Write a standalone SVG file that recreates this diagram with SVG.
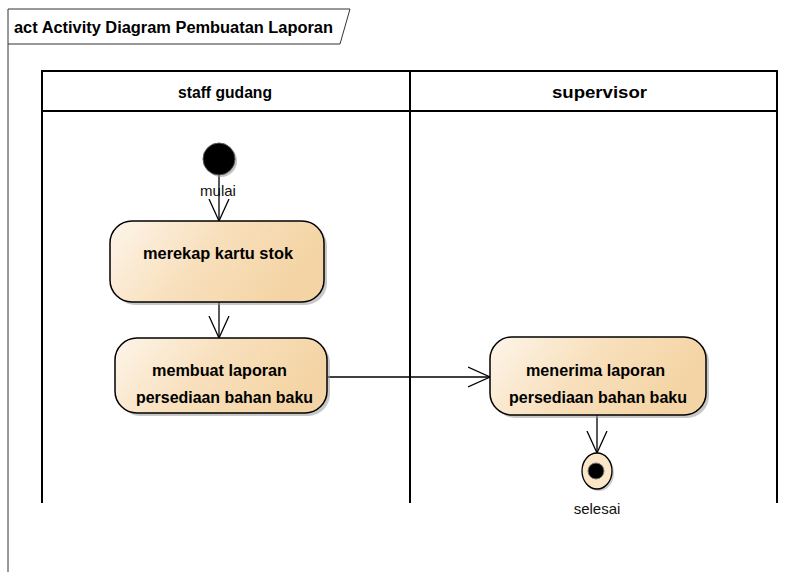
<svg xmlns="http://www.w3.org/2000/svg" width="801" height="572" viewBox="0 0 801 572">
<style>
.frame{fill:none;stroke:#333;stroke-width:1}
.lane{fill:none;stroke:#000;stroke-width:2}
.act{fill:url(#g);stroke:#000;stroke-width:1.5}
.shadow{fill:#9a9a9a;opacity:0.55}
.b{font-family:"Liberation Sans",Arial,sans-serif;font-weight:bold;font-size:16px;fill:#000}
.r{font-family:"Liberation Sans",Arial,sans-serif;font-size:15px;fill:#111}
.edge{fill:none;stroke:#000;stroke-width:1.3}
</style>
<defs>
<linearGradient id="g" x1="0" y1="0" x2="1" y2="0.3">
<stop offset="0" stop-color="#fdf5ea"/>
<stop offset="0.5" stop-color="#f8e0bd"/>
<stop offset="1" stop-color="#f4d4a4"/>
</linearGradient>
<marker id="open" markerWidth="24" markerHeight="22" refX="22" refY="11" orient="auto" markerUnits="userSpaceOnUse">
<path d="M0,1 L22,11 L0,21" fill="none" stroke="#000" stroke-width="1.3"/>
</marker>
</defs>
<rect width="801" height="572" fill="#fff"/>
<g id="frame">
<path class="frame" d="M8,572 L8,9 L350,9 L340,44 L8,44"/>
<text class="b" x="14" y="33" textLength="319" lengthAdjust="spacingAndGlyphs">act Activity Diagram Pembuatan Laporan</text>
</g>
<g id="lanes">
<path class="lane" d="M42,503 L42,71 L777,71 L777,503 M42,111 L777,111 M410,71 L410,503"/>
<text class="b" x="178" y="98" textLength="94" lengthAdjust="spacingAndGlyphs">staff gudang</text>
<text class="b" x="552" y="98" textLength="95" lengthAdjust="spacingAndGlyphs">supervisor</text>
</g>
<g id="connectors">
<line class="edge" x1="219" y1="175" x2="219" y2="221" marker-end="url(#open)"/>
<line class="edge" x1="219" y1="302" x2="219" y2="338" marker-end="url(#open)"/>
<line class="edge" x1="328" y1="377" x2="490" y2="377" marker-end="url(#open)"/>
<line class="edge" x1="597" y1="415" x2="597" y2="453" marker-end="url(#open)"/>
</g>
<g id="mulai">
<circle cx="221" cy="161" r="16" fill="#999" opacity="0.6"/>
<circle cx="219" cy="159" r="16" fill="#000" stroke="#555" stroke-width="1"/>
<text class="r" x="218" y="196" text-anchor="middle">mulai</text>
</g>
<g id="merekap">
<rect class="shadow" x="113" y="224" width="214" height="81" rx="22"/>
<rect class="act" x="110" y="221" width="214" height="81" rx="22"/>
<text class="b" x="143" y="259" textLength="150" lengthAdjust="spacingAndGlyphs">merekap kartu stok</text>
</g>
<g id="membuat">
<rect class="shadow" x="118" y="341" width="212" height="75" rx="22"/>
<rect class="act" x="115" y="338" width="212" height="75" rx="22"/>
<text class="b" x="152" y="376" textLength="135" lengthAdjust="spacingAndGlyphs">membuat laporan</text>
<text class="b" x="136" y="403" textLength="177" lengthAdjust="spacingAndGlyphs">persediaan bahan baku</text>
</g>
<g id="menerima">
<rect class="shadow" x="493" y="340" width="216" height="78" rx="22"/>
<rect class="act" x="490" y="337" width="216" height="78" rx="22"/>
<text class="b" x="526" y="376" textLength="139" lengthAdjust="spacingAndGlyphs">menerima laporan</text>
<text class="b" x="509" y="403" textLength="178" lengthAdjust="spacingAndGlyphs">persediaan bahan baku</text>
</g>
<g id="selesai">
<ellipse cx="599" cy="473" rx="15" ry="18" fill="#999" opacity="0.5"/>
<ellipse cx="597" cy="471" rx="15" ry="18" fill="#fbe7c8" stroke="#000" stroke-width="1.3"/>
<circle cx="596" cy="471" r="8" fill="#000" stroke="#777" stroke-width="1"/>
<text class="r" x="597" y="514" text-anchor="middle">selesai</text>
</g>
</svg>
